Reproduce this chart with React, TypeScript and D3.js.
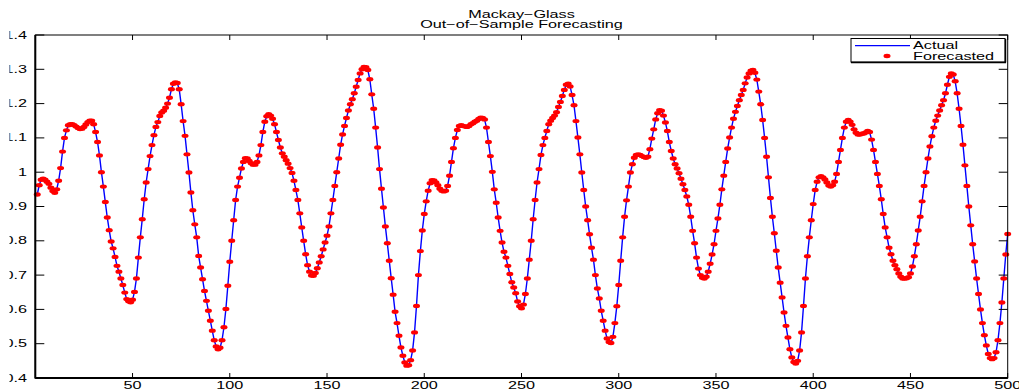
import React from 'react';
import * as d3 from 'd3';

const titleLines = ['Mackay\u2212Glass', 'Out\u2212of\u2212Sample Forecasting'];
const legendLabels = ['Actual', 'Forecasted'];

const xTicks = [50, 100, 150, 200, 250, 300, 350, 400, 450, 500];
const yTicks = [0.4, 0.5, 0.6, 0.7, 0.8, 0.9, 1.0, 1.1, 1.2, 1.3, 1.4];
const yTickLabels = ['0.4', '0.5', '0.6', '0.7', '0.8', '0.9', '1', '1.1', '1.2', '1.3', '1.4'];

// series values, t = 1..500 (actual and forecast overlap in the picture)
const actual = [
  0.935, 0.962, 0.978, 0.981, 0.978, 0.972, 0.966, 0.955, 0.945, 0.940,
  0.950, 0.975, 1.012, 1.060, 1.100, 1.122, 1.137, 1.140, 1.140, 1.137,
  1.133, 1.129, 1.126, 1.127, 1.132, 1.139, 1.146, 1.150, 1.150, 1.140,
  1.117, 1.088, 1.049, 1.000, 0.958, 0.913, 0.868, 0.831, 0.798, 0.778,
  0.753, 0.727, 0.710, 0.690, 0.671, 0.649, 0.630, 0.624, 0.621, 0.628,
  0.651, 0.690, 0.751, 0.810, 0.863, 0.921, 0.970, 1.009, 1.047, 1.079,
  1.108, 1.132, 1.146, 1.164, 1.174, 1.179, 1.188, 1.200, 1.217, 1.242,
  1.258, 1.262, 1.260, 1.242, 1.198, 1.149, 1.106, 1.052, 0.999, 0.941,
  0.889, 0.848, 0.810, 0.756, 0.722, 0.688, 0.654, 0.625, 0.596, 0.567,
  0.538, 0.510, 0.492, 0.484, 0.488, 0.510, 0.548, 0.601, 0.669, 0.739,
  0.800, 0.860, 0.919, 0.958, 0.984, 1.011, 1.030, 1.041, 1.040, 1.033,
  1.026, 1.022, 1.022, 1.030, 1.049, 1.079, 1.117, 1.147, 1.163, 1.169,
  1.165, 1.156, 1.140, 1.117, 1.094, 1.072, 1.055, 1.045, 1.035, 1.025,
  1.012, 0.998, 0.975, 0.948, 0.919, 0.880, 0.839, 0.800, 0.761, 0.729,
  0.710, 0.699, 0.698, 0.706, 0.720, 0.737, 0.755, 0.775, 0.795, 0.815,
  0.842, 0.880, 0.919, 0.960, 1.000, 1.040, 1.080, 1.110, 1.135, 1.158,
  1.180, 1.198, 1.213, 1.230, 1.249, 1.269, 1.288, 1.300, 1.307, 1.306,
  1.298, 1.271, 1.227, 1.185, 1.130, 1.072, 1.009, 0.952, 0.897, 0.842,
  0.793, 0.742, 0.691, 0.643, 0.593, 0.560, 0.523, 0.489, 0.465, 0.445,
  0.436, 0.437, 0.452, 0.480, 0.533, 0.610, 0.700, 0.770, 0.830, 0.878,
  0.915, 0.946, 0.968, 0.977, 0.976, 0.970, 0.962, 0.952, 0.946, 0.944,
  0.946, 0.960, 0.990, 1.030, 1.070, 1.100, 1.123, 1.135, 1.137, 1.135,
  1.133, 1.132, 1.135, 1.140, 1.143, 1.147, 1.150, 1.155, 1.159, 1.158,
  1.154, 1.130, 1.088, 1.047, 1.001, 0.950, 0.911, 0.868, 0.829, 0.795,
  0.768, 0.751, 0.727, 0.703, 0.679, 0.664, 0.647, 0.623, 0.609, 0.603,
  0.614, 0.645, 0.690, 0.745, 0.800, 0.863, 0.919, 0.970, 1.009, 1.050,
  1.079, 1.100, 1.120, 1.140, 1.150, 1.158, 1.165, 1.175, 1.190, 1.205,
  1.222, 1.240, 1.255, 1.258, 1.250, 1.225, 1.195, 1.149, 1.101, 1.052,
  0.999, 0.948, 0.900, 0.860, 0.819, 0.780, 0.745, 0.700, 0.661, 0.632,
  0.596, 0.567, 0.538, 0.515, 0.505, 0.502, 0.520, 0.560, 0.609, 0.671,
  0.742, 0.810, 0.870, 0.918, 0.958, 0.999, 1.023, 1.042, 1.050, 1.052,
  1.050, 1.047, 1.044, 1.042, 1.045, 1.067, 1.098, 1.125, 1.154, 1.172,
  1.181, 1.179, 1.165, 1.145, 1.120, 1.088, 1.062, 1.040, 1.023, 1.011,
  0.997, 0.981, 0.965, 0.948, 0.929, 0.905, 0.870, 0.829, 0.793, 0.751,
  0.719, 0.700, 0.692, 0.690, 0.695, 0.710, 0.733, 0.760, 0.790, 0.829,
  0.865, 0.905, 0.950, 0.990, 1.030, 1.069, 1.101, 1.130, 1.156, 1.176,
  1.193, 1.210, 1.225, 1.240, 1.259, 1.276, 1.288, 1.296, 1.298, 1.290,
  1.270, 1.235, 1.198, 1.152, 1.100, 1.045, 0.985, 0.925, 0.870, 0.822,
  0.771, 0.722, 0.678, 0.635, 0.591, 0.552, 0.518, 0.484, 0.460, 0.447,
  0.442, 0.450, 0.480, 0.533, 0.610, 0.690, 0.755, 0.810, 0.860, 0.907,
  0.948, 0.972, 0.985, 0.988, 0.985, 0.979, 0.970, 0.961, 0.958, 0.962,
  0.972, 0.995, 1.030, 1.065, 1.100, 1.130, 1.147, 1.152, 1.147, 1.138,
  1.125, 1.115, 1.110, 1.110, 1.112, 1.113, 1.116, 1.120, 1.117, 1.095,
  1.065, 1.030, 0.995, 0.960, 0.921, 0.878, 0.839, 0.810, 0.780, 0.761,
  0.742, 0.729, 0.717, 0.705, 0.695, 0.690, 0.690, 0.691, 0.694, 0.705,
  0.725, 0.755, 0.790, 0.830, 0.870, 0.915, 0.960, 1.000, 1.040, 1.075,
  1.105, 1.130, 1.150, 1.165, 1.180, 1.195, 1.210, 1.230, 1.255, 1.278,
  1.288, 1.285, 1.265, 1.230, 1.185, 1.135, 1.080, 1.020, 0.960, 0.900,
  0.845, 0.790, 0.740, 0.690, 0.645, 0.600, 0.560, 0.525, 0.495, 0.470,
  0.458, 0.455, 0.458, 0.475, 0.510, 0.560, 0.620, 0.690, 0.760, 0.820,
];

const W = 1019;
const H = 390;
const plot = { left: 35.3, right: 1007.7, top: 35, bottom: 378 };
const stretch = 1.62; // the figure was widened, text included
const font = '"Liberation Sans", Arial, Helvetica, sans-serif';

const SText = ({ x, y, anchor = 'start', size = 10, children }) => (
  <text
    transform={`translate(${x},${y}) scale(${stretch},1)`}
    textAnchor={anchor}
    fontSize={size}
    fontFamily={font}
    fill="#000"
  >
    {children}
  </text>
);

export default function App() {
  const x = d3.scaleLinear().domain([0, 500]).range([plot.left, plot.right]);
  const y = d3.scaleLinear().domain([0.4, 1.4]).range([plot.bottom, plot.top]);
  const pts = actual.map((v, i) => [i + 1, v]);
  const line = d3.line().x(d => x(d[0])).y(d => y(d[1]));
  const tickLen = 9;
  const xTickLen = 5;

  return (
    <svg width={W} height={H} style={{ position: 'absolute', left: 0, top: 0, background: '#fff' }}>
      <defs>
        <clipPath id="lblclip">
          <rect x={9.5} y={0} width={W} height={H} />
        </clipPath>
      </defs>
      <rect width={W} height={H} fill="#fff" />

      {/* title */}
      <SText x={(plot.left + plot.right) / 2} y={18} anchor="middle">{titleLines[0]}</SText>
      <SText x={(plot.left + plot.right) / 2} y={27.5} anchor="middle">{titleLines[1]}</SText>

      {/* data */}
      <path d={line(pts)} fill="none" stroke="#0000ff" strokeWidth={1.4} />
      {pts.map((d, i) => (
        <ellipse key={i} cx={x(d[0])} cy={y(d[1])} rx={3.5} ry={2.2} fill="#ff0000" />
      ))}

      {/* axes box */}
      <rect x={plot.left} y={plot.top} width={plot.right - plot.left} height={plot.bottom - plot.top}
        fill="none" stroke="#000" strokeWidth={1} />
      <line x1={plot.left} x2={plot.left} y1={plot.top} y2={plot.bottom + 0.5} stroke="#000" strokeWidth={2} />
      <line x1={plot.left} x2={plot.right} y1={plot.bottom} y2={plot.bottom} stroke="#000" strokeWidth={2} />

      {yTicks.map((t, i) => (
        <g key={'y' + i}>
          <line x1={plot.left} x2={plot.left + tickLen} y1={y(t)} y2={y(t)} stroke="#000" strokeWidth={1} />
          <line x1={plot.right} x2={plot.right - tickLen} y1={y(t)} y2={y(t)} stroke="#000" strokeWidth={1} />
        </g>
      ))}
      <g clipPath="url(#lblclip)">
        {yTicks.map((t, i) => (
          <SText key={'yl' + i} x={27} y={y(t) + 3.5} anchor="end">{yTickLabels[i]}</SText>
        ))}
      </g>

      {xTicks.map((t, i) => (
        <g key={'x' + i}>
          <line x1={x(t)} x2={x(t)} y1={plot.bottom} y2={plot.bottom - xTickLen} stroke="#000" strokeWidth={1} />
          <line x1={x(t)} x2={x(t)} y1={plot.top} y2={plot.top + xTickLen} stroke="#000" strokeWidth={1} />
          <SText x={x(t)} y={389} anchor="middle">{t}</SText>
        </g>
      ))}

      {/* legend */}
      <g>
        <rect x={851} y={38.5} width={154} height={23.5} fill="#fff" stroke="#000" strokeWidth={1} />
        <line x1={1005.5} x2={1005.5} y1={39} y2={62.5} stroke="#000" strokeWidth={1.5} />
        <line x1={851} x2={1006} y1={62.5} y2={62.5} stroke="#000" strokeWidth={1.5} />
        <line x1={855} x2={910} y1={45.7} y2={45.7} stroke="#0000ff" strokeWidth={1.2} />
        <SText x={913} y={49.3}>{legendLabels[0]}</SText>
        <ellipse cx={887} cy={56} rx={3.5} ry={2.2} fill="#ff0000" />
        <SText x={913} y={59.5}>{legendLabels[1]}</SText>
      </g>
    </svg>
  );
}
